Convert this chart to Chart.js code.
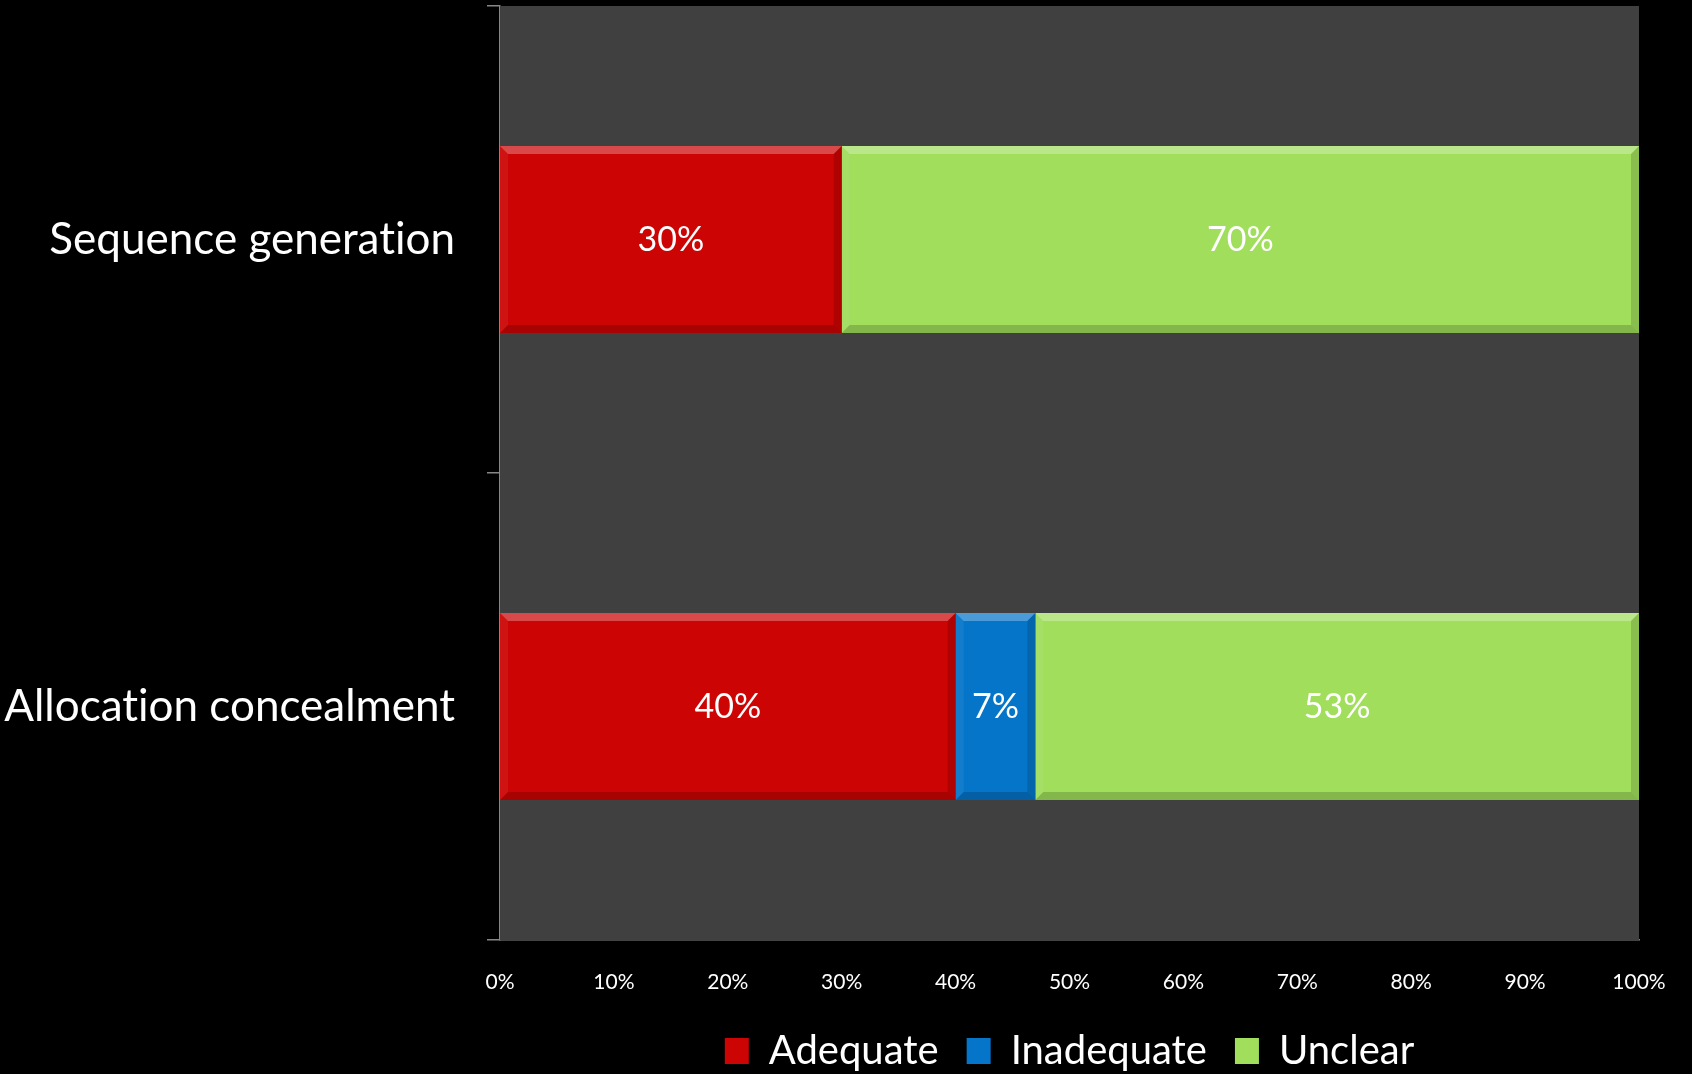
<!DOCTYPE html>
<html>
<head>
<meta charset="utf-8">
<script src="https://cdn.jsdelivr.net/npm/chart.js"></script>
<style>
  html, body { margin: 0; padding: 0; background: #000; }
  #wrap { width: 1692px; height: 1074px; }
</style>
</head>
<body>
<div id="wrap"><canvas id="riskChart"></canvas></div>
<script>
var categories = ['Sequence generation', 'Allocation concealment'];
var adequate = [30, 40];
var inadequate = [0, 7];
var unclear = [70, 53];
var seriesNames = ['Adequate', 'Inadequate', 'Unclear'];
var seriesColors = ['#cc0404', '#0575c9', '#a0de5c'];

var FONT = 'Lato, "Open Sans", sans-serif';
var AXIS_GREY = '#868686';
var LEGEND_FONT = 40;
var LEGEND_PAD = 28;
var BOTTOM_PAD = -7;

// dark plot background behind the bars (also turns off the "ti" ligature)
var plotBackground = {
    id: 'plotBackground',
    beforeDraw: function(chart) {
        chart.ctx.textRendering = 'optimizeSpeed';
    },
    beforeDatasetsDraw: function(chart) {
        var a = chart.chartArea, ctx = chart.ctx;
        ctx.save();
        ctx.fillStyle = '#404040';
        ctx.fillRect(a.left, a.top, a.right - a.left, a.bottom - a.top);
        ctx.restore();
    }
};

// bevelled edges on each bar segment, then the percentage text
var bevelLabels = {
    id: 'bevelLabels',
    afterDatasetsDraw: function(chart) {
        var ctx = chart.ctx;
        var b = 8;
        chart.data.datasets.forEach(function(ds, i) {
            var meta = chart.getDatasetMeta(i);
            meta.data.forEach(function(bar, j) {
                var v = ds.data[j];
                if (!v) return;
                var x0 = Math.min(bar.base, bar.x), x1 = Math.max(bar.base, bar.x);
                var y0 = bar.y - bar.height / 2, y1 = bar.y + bar.height / 2;
                ctx.save();
                function poly(pts, fill) {
                    ctx.beginPath();
                    ctx.moveTo(pts[0][0], pts[0][1]);
                    for (var k = 1; k < pts.length; k++) ctx.lineTo(pts[k][0], pts[k][1]);
                    ctx.closePath();
                    ctx.fillStyle = fill;
                    ctx.fill();
                }
                poly([[x0, y0], [x1, y0], [x1 - b, y0 + b], [x0 + b, y0 + b]], 'rgba(255,255,255,0.28)');
                poly([[x0, y1], [x1, y1], [x1 - b, y1 - b], [x0 + b, y1 - b]], 'rgba(0,0,0,0.18)');
                poly([[x0, y0], [x0 + b, y0 + b], [x0 + b, y1 - b], [x0, y1]], 'rgba(255,255,255,0.06)');
                poly([[x1, y0], [x1 - b, y0 + b], [x1 - b, y1 - b], [x1, y1]], 'rgba(0,0,0,0.14)');
                ctx.fillStyle = '#ffffff';
                ctx.font = '34px ' + FONT;
                ctx.textAlign = 'center';
                ctx.textBaseline = 'middle';
                ctx.fillText(v + '%', (x0 + x1) / 2, bar.y + 1);
                ctx.restore();
            });
        });
    }
};

var ctx = document.getElementById('riskChart').getContext('2d');
var chart = new Chart(ctx, {
    type: 'bar',
    data: {
        labels: categories,
        datasets: [
            { label: seriesNames[0], data: adequate, backgroundColor: seriesColors[0] },
            { label: seriesNames[1], data: inadequate, backgroundColor: seriesColors[1] },
            { label: seriesNames[2], data: unclear, backgroundColor: seriesColors[2] }
        ]
    },
    options: {
        indexAxis: 'y',
        responsive: true,
        maintainAspectRatio: false,
        animation: false,
        layout: { padding: { top: 6, right: 53, left: 0, bottom: BOTTOM_PAD } },
        datasets: {
            bar: { categoryPercentage: 1.0, barPercentage: 0.4, borderWidth: 0 }
        },
        scales: {
            x: {
                stacked: true,
                min: 0,
                max: 100,
                ticks: {
                    stepSize: 10,
                    color: '#ffffff',
                    padding: 30,
                    font: { family: FONT, size: 21 },
                    callback: function(v) { return v + '%'; }
                },
                grid: { display: false, drawTicks: false },
                border: { display: true, color: AXIS_GREY, width: 1.5 },
                afterFit: function(s) {
                    // legend row = font + padding + 10
                    s.height = 1074 - BOTTOM_PAD - 940 - (LEGEND_FONT + LEGEND_PAD + 10);
                    s.paddingLeft = 0;
                    s.paddingRight = 0;
                }
            },
            y: {
                stacked: true,
                ticks: {
                    color: '#ffffff',
                    padding: 32,
                    font: { family: FONT, size: 44 }
                },
                grid: { drawOnChartArea: false, drawTicks: true, tickLength: 13, color: AXIS_GREY, lineWidth: 1.5 },
                border: { display: true, color: AXIS_GREY, width: 1.5 },
                afterFit: function(s) {
                    s.width = 500;
                    s.paddingTop = 0;
                    s.paddingBottom = 0;
                }
            }
        },
        plugins: {
            legend: {
                position: 'bottom',
                fullSize: false,
                labels: {
                    color: '#ffffff',
                    boxWidth: 24,
                    boxHeight: 26,
                    padding: LEGEND_PAD,
                    font: { family: FONT, size: LEGEND_FONT }
                }
            },
            tooltip: { enabled: false }
        }
    },
    plugins: [plotBackground, bevelLabels]
});
</script>
</body>
</html>
